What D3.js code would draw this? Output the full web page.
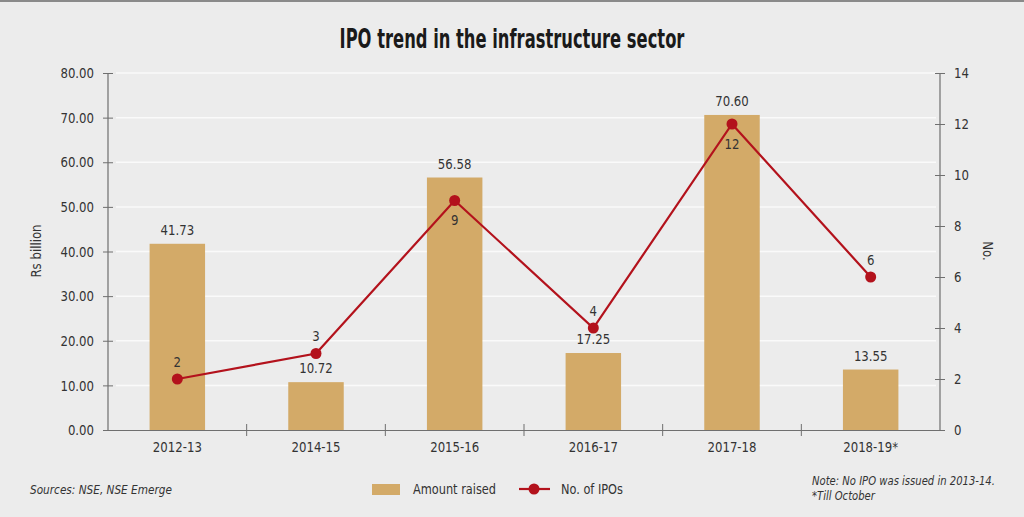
<!DOCTYPE html>
<html>
<head>
<meta charset="utf-8">
<script src="https://cdn.jsdelivr.net/npm/d3@7"></script>
<style>
  body { margin: 0; background: #ececec; }
  svg { display: block; }
  text { font-family: "DejaVu Sans Condensed", "DejaVu Sans", sans-serif; font-stretch: condensed; fill: #333; }
</style>
</head>
<body>
<svg id="chart" width="1024" height="517"></svg>
<script>
var years = ["2012-13", "2014-15", "2015-16", "2016-17", "2017-18", "2018-19*"];
var amount = [41.73, 10.72, 56.58, 17.25, 70.60, 13.55];
var ipos = [2, 3, 9, 4, 12, 6];
var leftTicks = [0, 10, 20, 30, 40, 50, 60, 70, 80];
var rightTicks = [0, 2, 4, 6, 8, 10, 12, 14];

var svg = d3.select("#chart");
var barColor = "#d3aa68", lineColor = "#b3121c", axisColor = "#6f6f6f";
var fontFam = "'DejaVu Sans Condensed', 'DejaVu Sans', sans-serif";
var fs = "14.5px";

// narrow the text horizontally around its anchor
function squeeze(sel, s) {
  sel.each(function() {
    var t = d3.select(this), tx = +t.attr("x") || 0;
    t.attr("transform", "translate(" + tx + ",0) scale(" + s + ",1) translate(" + (-tx) + ",0)");
  });
}
function fitWidth(sel, w) {
  var len = sel.node().getComputedTextLength();
  squeeze(sel, w / len);
}

// top border
svg.append("line").attr("x1", 0).attr("x2", 1024).attr("y1", 1).attr("y2", 1)
  .attr("stroke", "#8a8a8a").attr("stroke-width", 2);

var title = svg.append("text").attr("x", 512).attr("y", 48).attr("text-anchor", "middle")
  .style("font-size", "27px").style("font-weight", "bold").style("fill", "#1a1a1a")
  .text("IPO trend in the infrastructure sector");
fitWidth(title, 345);

var x = d3.scaleBand().domain(years).range([108, 940]).paddingInner(0.6).paddingOuter(0.3);
var yL = d3.scaleLinear().domain([0, 80]).range([430, 73]);
var yR = d3.scaleLinear().domain([0, 14]).range([430, 73]);

// gridlines
svg.append("g").selectAll("line").data(leftTicks.slice(1)).enter().append("line")
  .attr("x1", 116).attr("x2", 936)
  .attr("y1", function(d) { return yL(d); }).attr("y2", function(d) { return yL(d); })
  .attr("stroke", "#fafafa").attr("stroke-width", 1.5);

// bars
svg.append("g").selectAll("rect").data(amount).enter().append("rect")
  .attr("x", function(d, i) { return x(years[i]); })
  .attr("width", x.bandwidth())
  .attr("y", function(d) { return yL(d); })
  .attr("height", function(d) { return yL(0) - yL(d); })
  .attr("fill", barColor);

var barLabels = svg.append("g").selectAll("text").data(amount).enter().append("text")
  .attr("x", function(d, i) { return x(years[i]) + x.bandwidth() / 2; })
  .attr("y", function(d) { return yL(d) - 9; })
  .attr("text-anchor", "middle").style("font-size", fs)
  .text(function(d) { return d.toFixed(2); });
squeeze(barLabels, 0.9);

// axes
var leftAxis = d3.axisLeft(yL).tickValues(leftTicks).tickSize(10)
  .tickFormat(function(d) { return d.toFixed(2); });
var gl = svg.append("g").attr("transform", "translate(108,0)").call(leftAxis);
gl.selectAll(".tick line").attr("transform", "translate(5,0)");

var rightAxis = d3.axisRight(yR).tickValues(rightTicks).tickSize(10);
var gr = svg.append("g").attr("transform", "translate(940,0)").call(rightAxis);
gr.selectAll(".tick line").attr("transform", "translate(-5,0)");

var bottomAxis = d3.axisBottom(x).tickSize(0).tickPadding(12);
var gb = svg.append("g").attr("transform", "translate(0,430)").call(bottomAxis);

// category separator ticks
var step = x.step();
var seps = d3.range(years.length + 1).map(function(i) { return 108 + i * step; });
svg.append("g").selectAll("line").data(seps.slice(1, -1)).enter().append("line")
  .attr("x1", function(d) { return d; }).attr("x2", function(d) { return d; })
  .attr("y1", 424).attr("y2", 436).attr("stroke", axisColor);

gl.selectAll(".tick text").attr("x", -14);
gr.selectAll(".tick text").attr("x", 14);
[gl, gr, gb].forEach(function(g) {
  g.select(".domain").attr("stroke", axisColor).attr("stroke-width", 1.2);
  g.selectAll(".tick line").attr("stroke", axisColor);
  var t = g.selectAll("text").style("font-size", fs).style("fill", "#333")
    .style("font-family", fontFam).style("font-stretch", "condensed");
  squeeze(t, 0.9);
});
gl.select(".domain").attr("d", "M0,430V73");
gr.select(".domain").attr("d", "M0,430V73");

// line
var line = d3.line()
  .x(function(d, i) { return x(years[i]) + x.bandwidth() / 2; })
  .y(function(d) { return yR(d); });
svg.append("path").datum(ipos).attr("d", line)
  .attr("fill", "none").attr("stroke", lineColor).attr("stroke-width", 2.2);
svg.append("g").selectAll("circle").data(ipos).enter().append("circle")
  .attr("cx", function(d, i) { return x(years[i]) + x.bandwidth() / 2; })
  .attr("cy", function(d) { return yR(d); })
  .attr("r", 5.5).attr("fill", lineColor);

var below = [false, false, true, false, true, false];
var lineLabels = svg.append("g").selectAll("text").data(ipos).enter().append("text")
  .attr("x", function(d, i) { return x(years[i]) + x.bandwidth() / 2; })
  .attr("y", function(d, i) { return below[i] ? yR(d) + 25 : yR(d) - 12; })
  .attr("text-anchor", "middle").style("font-size", fs)
  .text(function(d) { return d; });
squeeze(lineLabels, 0.9);

// axis titles
svg.append("text").attr("transform", "translate(41,251) rotate(-90) scale(0.9,1)")
  .attr("text-anchor", "middle").style("font-size", fs).text("Rs billion");
svg.append("text").attr("transform", "translate(983,251) rotate(90) scale(0.9,1)")
  .attr("text-anchor", "middle").style("font-size", fs).text("No.");

// legend
svg.append("rect").attr("x", 372).attr("y", 484).attr("width", 28).attr("height", 11).attr("fill", barColor);
squeeze(svg.append("text").attr("x", 413).attr("y", 494).style("font-size", fs).text("Amount raised"), 0.87);
svg.append("line").attr("x1", 519).attr("x2", 550).attr("y1", 489).attr("y2", 489)
  .attr("stroke", lineColor).attr("stroke-width", 2.2);
svg.append("circle").attr("cx", 534).attr("cy", 489).attr("r", 5.5).attr("fill", lineColor);
squeeze(svg.append("text").attr("x", 561).attr("y", 494).style("font-size", fs).text("No. of IPOs"), 0.87);

// notes
var src = svg.append("text").attr("x", 30).attr("y", 494).style("font-size", "13px").style("font-style", "italic")
  .text("Sources: NSE, NSE Emerge");
fitWidth(src, 142);
var note = svg.append("text").attr("x", 812).attr("y", 485).style("font-size", "13px").style("font-style", "italic")
  .text("Note: No IPO was issued in 2013-14.");
fitWidth(note, 183);
var till = svg.append("text").attr("x", 812).attr("y", 500).style("font-size", "13px").style("font-style", "italic")
  .text("*Till October");
squeeze(till, note.node().getBBox().width ? 183 / note.node().getComputedTextLength() : 0.85);
</script>
</body>
</html>
